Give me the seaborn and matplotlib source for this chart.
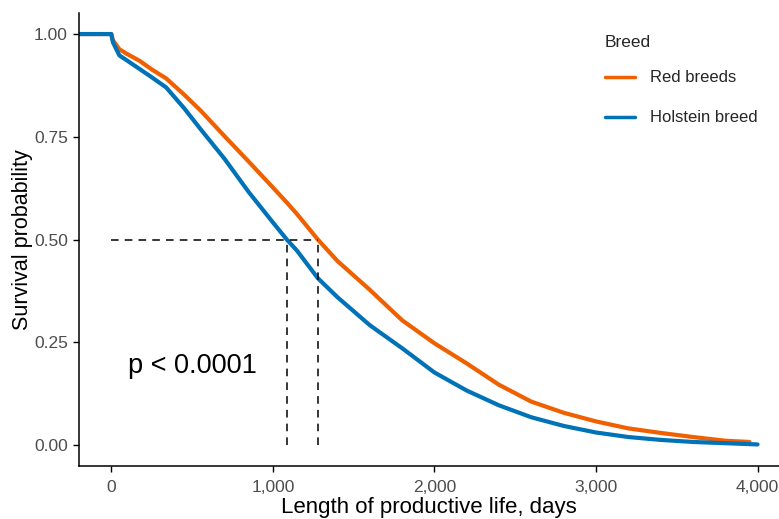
import matplotlib
matplotlib.use("Agg")
import matplotlib.pyplot as plt
import numpy as np
import pandas as pd
import seaborn as sns

# Kaplan-Meier curves (days, survival probability)
red_days = [-200, 0, 10, 50, 100, 175, 250, 340, 450, 550, 700, 850, 1000, 1087, 1150, 1279,
            1400, 1600, 1800, 2000, 2200, 2400, 2600, 2800, 3000, 3200, 3400, 3600, 3800, 3950]
red_surv = [1.0, 1.0, 0.985, 0.963, 0.951, 0.935, 0.914, 0.892, 0.853, 0.815, 0.752, 0.690, 0.627, 0.590, 0.562, 0.500,
            0.448, 0.378, 0.304, 0.248, 0.199, 0.147, 0.106, 0.079, 0.058, 0.041, 0.030, 0.020, 0.011, 0.008]

holstein_days = [-200, 0, 10, 50, 100, 175, 250, 340, 450, 550, 700, 850, 1000, 1087, 1150, 1279,
                 1400, 1600, 1800, 2000, 2200, 2400, 2600, 2800, 3000, 3200, 3400, 3600, 3800, 4000]
holstein_surv = [1.0, 1.0, 0.980, 0.948, 0.935, 0.915, 0.895, 0.870, 0.820, 0.770, 0.697, 0.616, 0.542, 0.500, 0.473, 0.406,
                 0.360, 0.292, 0.236, 0.177, 0.133, 0.097, 0.068, 0.047, 0.031, 0.020, 0.013, 0.008, 0.005, 0.002]

breeds = ["Red breeds", "Holstein breed"]
colors = ["#F05F00", "#0072B8"]
medians = [1279, 1087]
p_label = "p < 0.0001"
x_ticks = [0, 1000, 2000, 3000, 4000]
x_tick_labels = ["0", "1,000", "2,000", "3,000", "4,000"]
y_ticks = [0.0, 0.25, 0.5, 0.75, 1.0]
y_tick_labels = ["0.00", "0.25", "0.50", "0.75", "1.00"]

df = pd.concat(
  (
    pd.DataFrame({"days": red_days, "surv": red_surv, "breed": breeds[0]}),
    pd.DataFrame({"days": holstein_days, "surv": holstein_surv, "breed": breeds[1]}),
  ),
  ignore_index=True,
)

sns.set_style("ticks")
plt.rcParams["font.family"] = ["Liberation Sans", "DejaVu Sans"]

fig = plt.figure(figsize=(7.79, 5.19), dpi=100)
ax = fig.add_axes([0.1014, 0.1025, 0.8986, 0.8715])

sns.lineplot(
  data=df,
  x="days",
  y="surv",
  hue="breed",
  hue_order=breeds,
  palette=colors,
  linewidth=3.0,
  sort=False,
  estimator=None,
  ax=ax,
)

# median survival guides
ax.plot([0, max(medians)], [0.5, 0.5], color="black", linewidth=1.1, dashes=(5, 4))
for m in medians:
  ax.plot([m, m], [0, 0.5], color="black", linewidth=1.1, dashes=(5, 4))

ax.text(505, 0.192, p_label, ha="center", va="center", fontsize=19.5, color="black")

ax.set_xlim(-200, 4133)
ax.set_ylim(-0.05, 1.05)
ax.set_xticks(x_ticks, x_tick_labels)
ax.set_yticks(y_ticks, y_tick_labels)
ax.tick_params(axis="both", length=4, width=1.0, color="black", labelsize=12.5, labelcolor="#4D4D4D", pad=4)
ax.tick_params(axis="x", pad=6)
for s in ("top", "right"):
  ax.spines[s].set_visible(False)
for s in ("left", "bottom"):
  ax.spines[s].set_color("black")
  ax.spines[s].set_linewidth(1.1)

ax.set_xlabel("Length of productive life, days", fontsize=16, color="black", labelpad=2)
ax.set_ylabel("Survival probability", fontsize=15.5, color="black", labelpad=1)

handles, labels = ax.get_legend_handles_labels()
leg = ax.legend(
  handles=handles,
  labels=labels,
  title="Breed",
  loc="upper left",
  bbox_to_anchor=(598 / 779, 1 - 28 / 519),
  bbox_transform=fig.transFigure,
  frameon=False,
  fontsize=12,
  title_fontsize=12.5,
  handlelength=1.8,
  handletextpad=0.9,
  labelspacing=1.5,
  borderaxespad=0,
)
leg._legend_box.align = "left"
leg._legend_box.sep = 15
for line in leg.get_lines():
  line.set_linewidth(2.5)

fig.savefig("out.png", dpi=100)
